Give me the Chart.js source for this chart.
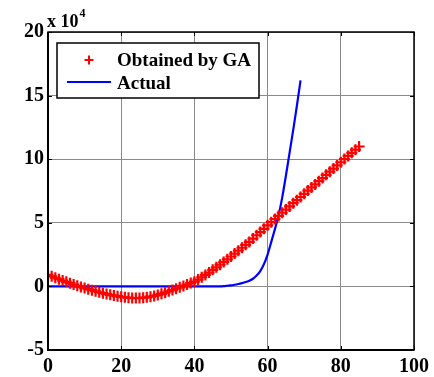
<!DOCTYPE html>
<html>
<head>
<meta charset="utf-8">
<style>
  body { margin: 0; background: #fff; }
  #wrap { width: 434px; height: 377px; position: relative; }
</style>
<script src="https://cdn.jsdelivr.net/npm/chart.js"></script>
</head>
<body>
<div id="wrap"><canvas id="chart"></canvas></div>
<script>
  // values in units of 1e4, one per x step (x = index)
  const gaValues = [
    0.90, 0.79, 0.68, 0.57, 0.46, 0.36, 0.25, 0.15, 0.05, -0.04,
    -0.13, -0.22, -0.30, -0.38, -0.46, -0.53, -0.60, -0.66, -0.72, -0.77,
    -0.82, -0.86, -0.89, -0.91, -0.92, -0.91, -0.89, -0.86, -0.81, -0.75,
    -0.67, -0.58, -0.49, -0.39, -0.29, -0.18, -0.07, 0.04, 0.15, 0.26,
    0.37, 0.54, 0.72, 0.90, 1.09, 1.30, 1.50, 1.71, 1.92, 2.13,
    2.35, 2.58, 2.81, 3.04, 3.27, 3.50, 3.76, 4.02, 4.27, 4.53,
    4.80, 5.05, 5.30, 5.54, 5.79, 6.04, 6.29, 6.54, 6.78, 7.03,
    7.28, 7.53, 7.78, 8.02, 8.27, 8.52, 8.77, 9.02, 9.26, 9.51,
    9.76, 10.01, 10.26, 10.50, 10.75, 11.00
  ];
  const actualValues = [
    0, 0, 0, 0, 0, 0, 0, 0, 0, 0,
    0, 0, 0, 0, 0, 0, 0, 0, 0, 0,
    0, 0, 0, 0, 0, 0, 0, 0, 0, 0,
    0, 0, 0, 0, 0, 0, 0, 0, 0, 0,
    0, 0, 0, 0, 0, 0, 0, 0, 0.02, 0.05,
    0.08, 0.13, 0.19, 0.26, 0.34, 0.45, 0.60, 0.85, 1.20, 1.75,
    2.50, 3.50, 4.50, 5.60, 7.00, 8.70, 10.50, 12.30, 14.20, 16.20
  ];
  const xTicks = [0, 20, 40, 60, 80, 100];
  const yTicks = [-5, 0, 5, 10, 15, 20];
  const seriesNames = ['Obtained by GA', 'Actual'];

  const FONT = 'Liberation Serif, Times New Roman, serif';
  const toPoints = arr => arr.map((v, i) => ({ x: i, y: v }));

  // MATLAB style box, inward ticks, exponent label and legend
  const matlabBox = {
    id: 'matlabBox',
    afterDraw(chart) {
      const { ctx, chartArea: a, scales } = chart;
      ctx.save();
      ctx.strokeStyle = '#000';
      ctx.lineWidth = 1;
      // inward ticks
      ctx.beginPath();
      xTicks.forEach(t => {
        const px = Math.round(scales.x.getPixelForValue(t)) + 0.5;
        ctx.moveTo(px, a.bottom); ctx.lineTo(px, a.bottom - 4);
        ctx.moveTo(px, a.top); ctx.lineTo(px, a.top + 4);
      });
      yTicks.forEach(t => {
        const py = Math.round(scales.y.getPixelForValue(t)) + 0.5;
        ctx.moveTo(a.left, py); ctx.lineTo(a.left + 4, py);
        ctx.moveTo(a.right, py); ctx.lineTo(a.right - 4, py);
      });
      ctx.stroke();
      // box
      ctx.lineWidth = 1.5;
      ctx.strokeRect(a.left, a.top, a.right - a.left, a.bottom - a.top);
      ctx.lineWidth = 2;
      ctx.beginPath();
      ctx.moveTo(a.left, a.top); ctx.lineTo(a.left, a.bottom); ctx.lineTo(a.right, a.bottom);
      ctx.stroke();

      // exponent
      ctx.fillStyle = '#000';
      ctx.textBaseline = 'alphabetic';
      ctx.textAlign = 'left';
      ctx.font = 'bold 18px ' + FONT;
      ctx.fillText('x 10', 47, 27);
      const w = ctx.measureText('x 10').width;
      ctx.font = 'bold 12px ' + FONT;
      ctx.fillText('4', 47 + w + 1, 17);

      // legend
      const lx = 57, ly = 43, lw = 202, lh = 55;
      ctx.fillStyle = '#fff';
      ctx.fillRect(lx, ly, lw, lh);
      ctx.lineWidth = 1.5;
      ctx.strokeStyle = '#000';
      ctx.strokeRect(lx, ly, lw, lh);
      // plus marker
      ctx.strokeStyle = '#ff0000';
      ctx.lineWidth = 2;
      ctx.beginPath();
      ctx.moveTo(84.5, 60); ctx.lineTo(93.5, 60);
      ctx.moveTo(89, 55.5); ctx.lineTo(89, 64.5);
      ctx.stroke();
      // line
      ctx.strokeStyle = '#0000ff';
      ctx.beginPath();
      ctx.moveTo(67, 82); ctx.lineTo(111, 82);
      ctx.stroke();
      ctx.fillStyle = '#000';
      ctx.font = 'bold 19px ' + FONT;
      ctx.textBaseline = 'middle';
      ctx.fillText(seriesNames[0], 117, 61);
      ctx.fillText(seriesNames[1], 117, 84);
      ctx.restore();
    }
  };

  new Chart(document.getElementById('chart'), {
    type: 'line',
    data: {
      datasets: [
        {
          label: seriesNames[0],
          data: toPoints(gaValues),
          showLine: false,
          pointStyle: 'cross',
          pointRadius: 5.5,
          pointBorderWidth: 2.2,
          borderColor: '#ff0000',
          backgroundColor: '#ff0000'
        },
        {
          label: seriesNames[1],
          data: toPoints(actualValues),
          borderColor: '#0000ff',
          borderWidth: 2.2,
          pointRadius: 0,
          tension: 0.2
        }
      ]
    },
    options: {
      responsive: true,
      maintainAspectRatio: false,
      animation: false,
      layout: { padding: { top: 32, right: 15, left: 0, bottom: 0 } },
      plugins: { legend: { display: false }, tooltip: { enabled: false } },
      scales: {
        x: {
          type: 'linear',
          min: 0, max: 100,
          afterFit: s => { s.height = 27; },
          afterBuildTicks: s => { s.ticks = xTicks.map(v => ({ value: v })); },
          grid: { color: '#8a8a8a', lineWidth: 1, drawTicks: false },
          border: { display: false },
          ticks: { color: '#000', padding: 5, font: { family: FONT, size: 20, weight: 'bold' } }
        },
        y: {
          min: -5, max: 20,
          afterFit: s => { s.width = 48; },
          afterBuildTicks: s => { s.ticks = yTicks.map(v => ({ value: v })); },
          grid: { color: '#8a8a8a', lineWidth: 1, drawTicks: false },
          border: { display: false },
          ticks: { color: '#000', padding: 4, font: { family: FONT, size: 20, weight: 'bold' } }
        }
      }
    },
    plugins: [matlabBox]
  });
</script>
</body>
</html>
